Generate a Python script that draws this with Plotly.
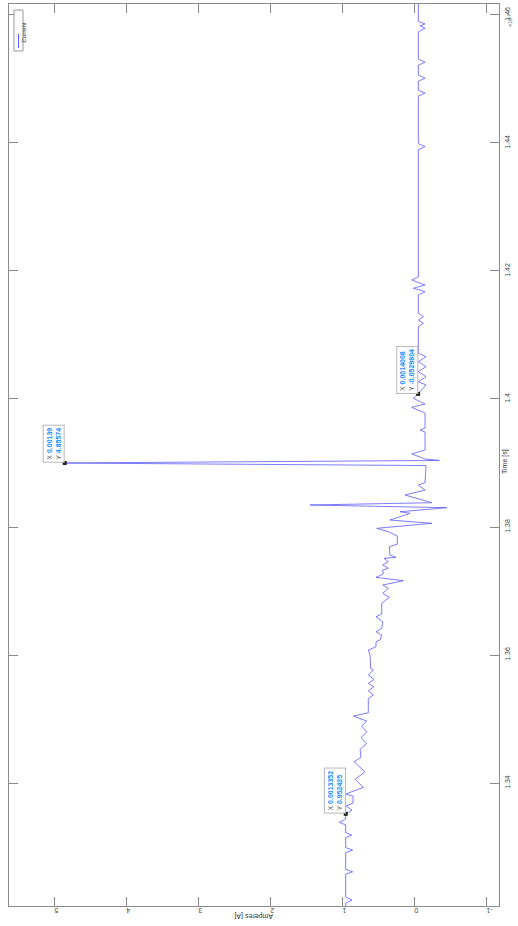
import plotly.graph_objects as go

# Time values in units of 1e-3 s (as shown on the time axis)
time_ms = [
    1.3200, 1.32125, 1.32172, 1.32219, 1.32578, 1.32614, 1.32652, 1.32914, 1.32953, 1.32992,
    1.33148, 1.33187, 1.33227, 1.33347, 1.33386, 1.33437, 1.3352, 1.33578, 1.33641, 1.33688,
    1.33797, 1.33828, 1.33933, 1.34058, 1.34177, 1.34333, 1.34402, 1.34527, 1.34620, 1.34708,
    1.34802, 1.34891, 1.34969, 1.35047, 1.35098, 1.35323, 1.35375, 1.35442, 1.35505, 1.35558,
    1.35620, 1.35688, 1.35766, 1.35792, 1.36000, 1.36078, 1.36130, 1.36208, 1.36234, 1.36313,
    1.36364, 1.36417, 1.36520, 1.36598, 1.36641, 1.36808, 1.36902, 1.36964, 1.37042, 1.37094,
    1.37161, 1.37214, 1.37266, 1.37328, 1.37355, 1.37406, 1.37458, 1.37511, 1.37527, 1.37563,
    1.37692, 1.37734, 1.37859, 1.37927, 1.37980, 1.38058, 1.38109, 1.38214, 1.38239, 1.38302,
    1.38344, 1.38380, 1.38500, 1.38578, 1.38656, 1.38692, 1.3896, 1.3900, 1.3904, 1.39063,
    1.39141, 1.39203, 1.39484, 1.39516, 1.39547, 1.39781, 1.39870, 1.39922, 1.40011, 1.4008,
    1.40219, 1.40270, 1.40348, 1.40427, 1.40505, 1.40583, 1.40661, 1.40714, 1.41130, 1.41183,
    1.41234, 1.41286, 1.41339, 1.41625, 1.41677, 1.41730, 1.41781, 1.41859, 1.41906, 1.43895,
    1.43942, 1.43989, 1.44730, 1.44777, 1.44823, 1.44964, 1.45011, 1.45058, 1.45214, 1.45261,
    1.45308, 1.45734, 1.45792, 1.45828, 1.45859, 1.45895, 1.4625,
]
current_a = [
    0.953, 0.953, 0.865, 0.953, 0.953, 0.856, 0.953, 0.953, 0.856, 0.953,
    0.953, 0.869, 0.953, 0.953, 1.042, 0.953, 0.952425, 0.865, 0.949, 0.851,
    0.851, 0.953, 0.708, 0.824, 0.685, 0.838, 0.740, 0.754, 0.661, 0.740,
    0.661, 0.731, 0.661, 0.847, 0.639, 0.639, 0.569, 0.639, 0.560, 0.639,
    0.560, 0.639, 0.569, 0.606, 0.615, 0.639, 0.532, 0.532, 0.476, 0.453,
    0.532, 0.453, 0.439, 0.532, 0.453, 0.453, 0.347, 0.439, 0.361, 0.439,
    0.153, 0.532, 0.431, 0.439, 0.361, 0.439, 0.361, 0.421, 0.254, 0.338,
    0.347, 0.236, 0.236, 0.361, 0.522, -0.242, 0.338, 0.060, 0.199, -0.450,
    1.449, -0.242, 0.129, -0.149, -0.056, -0.149, -0.163, 4.85574, -0.347, -0.149,
    0.036, -0.149, -0.149, -0.079, -0.149, -0.149, 0.036, -0.149, 0.014, -0.0529804,
    -0.163, -0.056, -0.163, -0.056, -0.163, -0.056, -0.163, -0.056, -0.056, -0.125,
    -0.056, -0.125, -0.056, -0.056, -0.149, 0.014, -0.149, 0.036, -0.056, -0.056,
    -0.149, -0.056, -0.056, -0.149, -0.056, -0.056, -0.149, -0.056, -0.056, -0.149,
    -0.056, -0.056, -0.149, -0.079, -0.149, -0.056, -0.056,
]

# Data tips (time in seconds, current in amperes)
tip_time_s = [0.0013352, 0.00139, 0.0014008]
tip_current = [0.952425, 4.85574, -0.0529804]

amp_ticks = [-1, 0, 1, 2, 3, 4, 5]
amp_labels = ["-1", "0", "1", "2", "3", "4", "5"]
time_ticks = [1.34, 1.36, 1.38, 1.40, 1.42, 1.44, 1.46]
time_labels = ["1.34", "1.36", "1.38", "1.4", "1.42", "1.44", "1.46"]

W, H = 518, 926
L, R, T, B = 9, 499, 4, 906
PW, PH = R - L, B - T


def px(x):
    return (x - L) / PW


def py(y):
    return (B - y) / PH


LINE = "rgb(90,90,255)"
FONT = "Liberation Sans, Arial, sans-serif"

fig = go.Figure()
fig.add_trace(go.Scatter(
    x=current_a, y=time_ms, mode="lines",
    line=dict(color=LINE, width=0.8), name="Current", showlegend=False,
))
fig.add_trace(go.Scatter(
    x=tip_current, y=[t * 1e3 for t in tip_time_s], mode="markers",
    marker=dict(symbol="square", size=4, color="#222"), showlegend=False,
))

annotations = []
for t, a in zip(tip_time_s, tip_current):
    txt = (f"<span style='color:#555'>X</span> <b>{t}</b><br>"
           f"<span style='color:#555'>Y</span> <b>{a}</b>")
    annotations.append(dict(
        x=a, y=t * 1e3, xref="x", yref="y", text=txt, showarrow=False,
        textangle=-90, align="left", xanchor="right", yanchor="bottom",
        font=dict(family=FONT, size=7, color="rgb(20,140,255)"),
        bgcolor="rgba(255,255,255,0.95)", bordercolor="#b8b8b8",
        borderwidth=1, borderpad=2,
    ))

annotations += [
    dict(x=px(511), y=py(462), xref="paper", yref="paper", text="Time [s]",
         showarrow=False, textangle=-90, font=dict(family=FONT, size=7, color="#333")),
    dict(x=px(254), y=py(921.5), xref="paper", yref="paper", text="Amperes [A]",
         showarrow=False, textangle=180, font=dict(family=FONT, size=7, color="#333")),
    dict(x=px(514.5), y=py(12), xref="paper", yref="paper", text="×10<sup>-3</sup>",
         showarrow=False, textangle=-90, font=dict(family=FONT, size=5.5, color="#555")),
    dict(x=px(18.5), y=py(21), xref="paper", yref="paper", text="Current",
         showarrow=False, textangle=-90, font=dict(family=FONT, size=6, color="#222")),
]

shapes = [
    dict(type="rect", xref="paper", yref="paper", x0=px(14), x1=px(23), y0=py(51), y1=py(10),
         line=dict(color="#999", width=1), fillcolor="white"),
    dict(type="line", xref="paper", yref="paper", x0=px(18.5), x1=px(18.5), y0=py(48), y1=py(34),
         line=dict(color=LINE, width=1)),
]

axis_common = dict(
    showgrid=False, zeroline=False, showline=True, linecolor="#8a8a8a", linewidth=1,
    ticks="inside", ticklen=9, tickcolor="#8a8a8a", mirror="allticks",
    tickfont=dict(family=FONT, size=7, color="#444"), automargin=False,
    ticklabeloverflow="allow",
)

fig.update_layout(
    width=W, height=H, autosize=False,
    margin=dict(l=L, r=W - R, t=T, b=H - B, autoexpand=False),
    paper_bgcolor="white", plot_bgcolor="white",
    xaxis=dict(range=[5.629, -1.176], tickvals=amp_ticks, ticktext=amp_labels,
               tickangle=180, ticklabelstandoff=0, **axis_common),
    yaxis=dict(range=[1.3208, 1.4617], tickvals=time_ticks, ticktext=time_labels,
               tickangle=-90, side="right", ticklabelstandoff=2, **axis_common),
    annotations=annotations, shapes=shapes, showlegend=False,
)

fig.write_html("out.html", config={"displayModeBar": False},
               post_script="document.body.style.margin='0';")
